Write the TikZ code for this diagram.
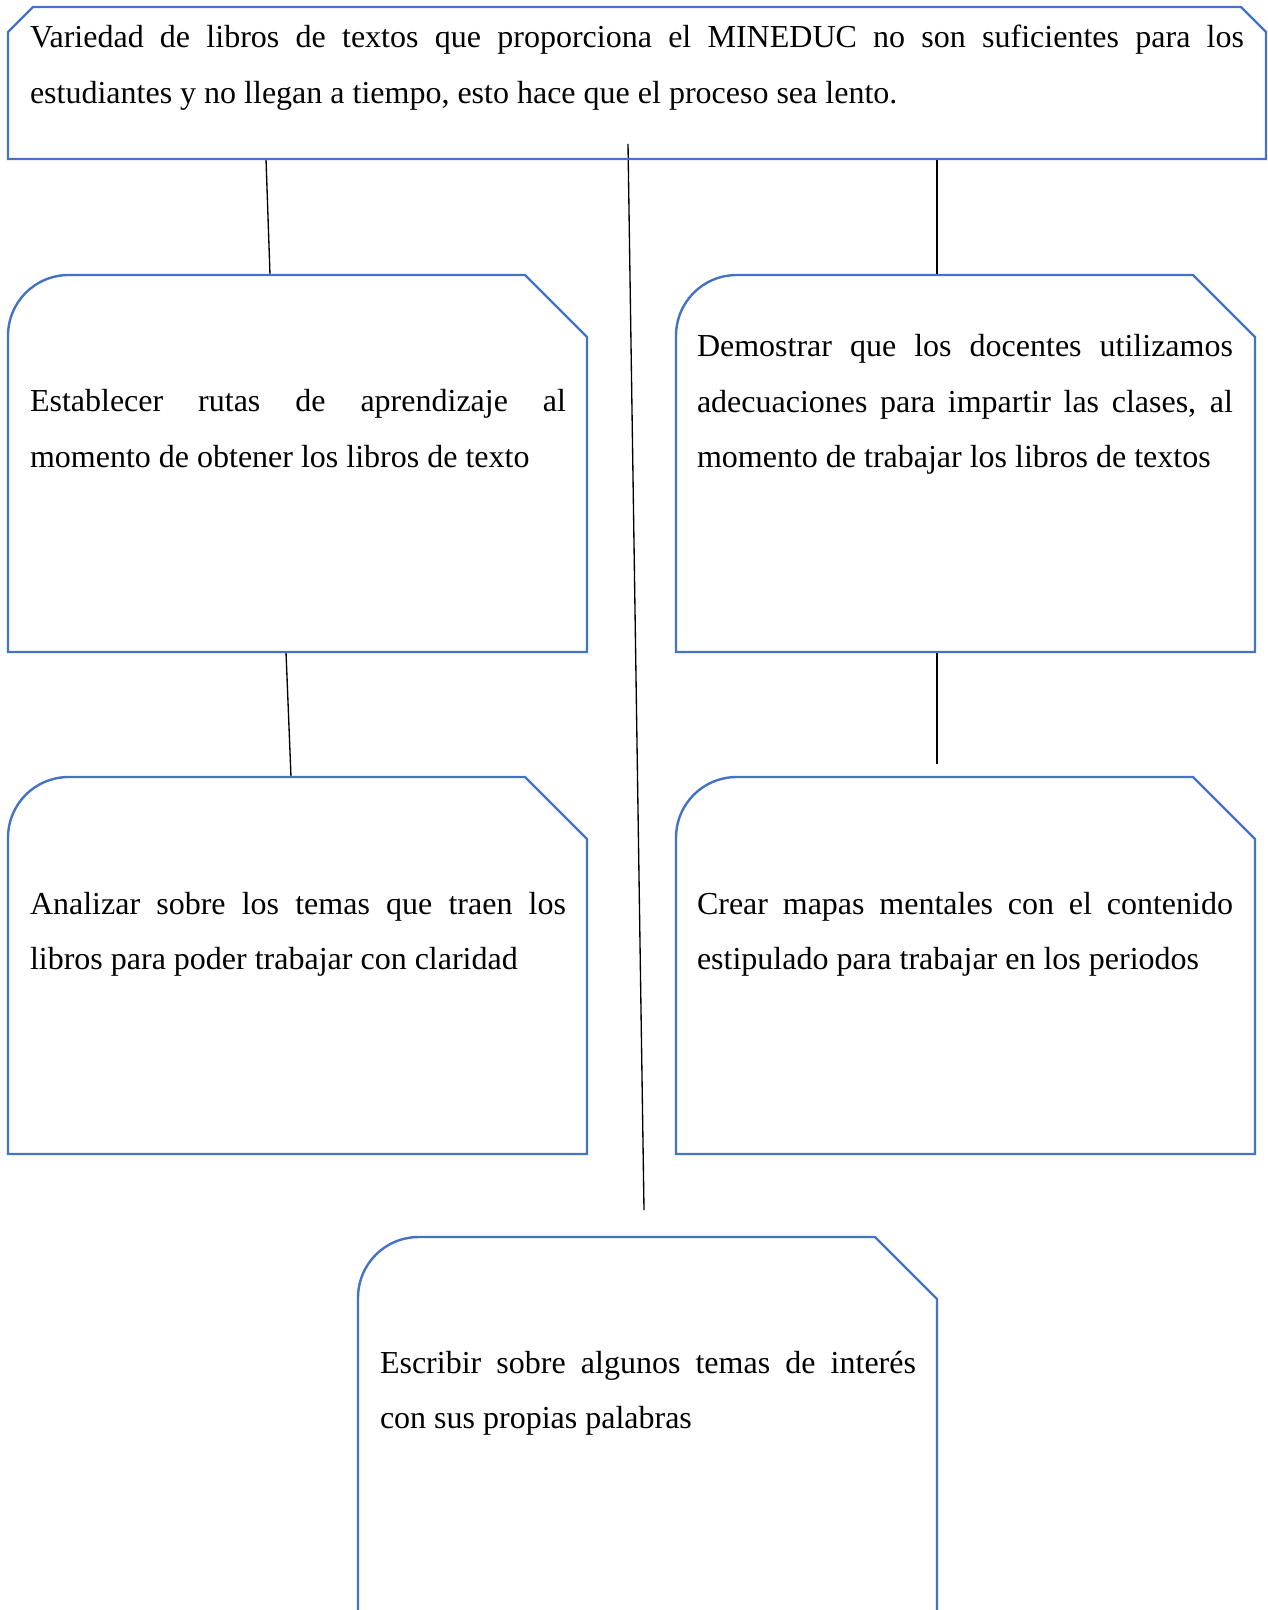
\documentclass[tikz,border=0pt]{standalone}
\usepackage{fontspec}
\setmainfont{Liberation Serif}
\usetikzlibrary{calc}
\hyphenpenalty=10000
\exhyphenpenalty=10000
\tolerance=10000
\definecolor{boxblue}{HTML}{4472C4}

\begin{document}
\begin{tikzpicture}[x=0.375pt,y=-0.375pt]
\tikzset{
	idea box/.style={rectangle,inner sep=0,outer sep=0,anchor=north west,minimum width=217.125pt,minimum height=141.375pt},
	box line/.style={draw=boxblue,line width=0.9pt,line join=miter},
	idea text/.style={anchor=base west,inner sep=0,outer sep=0,text width=201pt,align=justify,font=\fontsize{12pt}{20.8pt}\selectfont},
	link/.style={draw=black,line width=0.5pt}
}
\useasboundingbox (0,0) rectangle (1268,1610);
\clip (0,0) rectangle (1268,1610);

% boxes
\node[idea box,minimum width=471.75pt,minimum height=57pt] (variedad) at (8,7) {};
\node[idea box] (rutas) at (8,275) {};
\node[idea box] (docentes) at (676,275) {};
\node[idea box] (analizar) at (8,777) {};
\node[idea box] (mapas) at (676,777) {};
\node[idea box,minimum height=155pt] (escribir) at (358,1237) {};

% texts
\node[idea text,text width=455.25pt] (variedad text) at (30,48) {Variedad de libros de textos que proporciona el MINEDUC no son suficientes para los\linebreak estudiantes y no llegan a tiempo, esto hace que el proceso sea lento.};
\node[idea text] (rutas text) at (30,412) {Establecer rutas de aprendizaje al\linebreak momento de obtener los libros de texto};
\node[idea text] (docentes text) at (697,357) {Demostrar que los docentes utilizamos\linebreak adecuaciones para impartir las clases, al\linebreak momento de trabajar los libros de textos};
\node[idea text] (analizar text) at (30,914) {Analizar sobre los temas que traen los\linebreak libros para poder trabajar con claridad};
\node[idea text] (mapas text) at (697,914) {Crear mapas mentales con el contenido\linebreak estipulado para trabajar en los periodos};
\node[idea text] (escribir text) at (380,1373) {Escribir sobre algunos temas de interés\linebreak con sus propias palabras};

% connectors
\draw[link] ($(variedad.south west)+(258,0)$) -- ($(rutas.north west)+(262,0)$);
\draw[link] ($(variedad.south west)+(929,0)$) -- ($(docentes.north west)+(261,0)$);
\draw[link] ($(variedad.south west)+(620,-15)$) -- ($(escribir.north west)+(286,-27)$);
\draw[link] ($(rutas.south west)+(278,0)$) -- ($(analizar.north west)+(283,0)$);
\draw[link] ($(docentes.south west)+(261,0)$) -- ($(mapas.north west)+(261,-13)$);

% outlines
\draw[box line] (variedad.south west) -- ($(variedad.north west)+(0,25)$) -- ($(variedad.north west)+(25,0)$)
	-- ($(variedad.north east)+(-25,0)$) -- ($(variedad.north east)+(0,25)$) -- (variedad.south east) -- cycle;
\foreach \b in {rutas,docentes,analizar,mapas,escribir}
	\draw[box line] (\b.south west) -- ($(\b.north west)+(0,61)$)
		.. controls ($(\b.north west)+(0,27)$) and ($(\b.north west)+(27,0)$) .. ($(\b.north west)+(61,0)$)
		-- ($(\b.north east)+(-62,0)$) -- ($(\b.north east)+(0,62)$) -- (\b.south east) -- cycle;
\end{tikzpicture}
\end{document}
